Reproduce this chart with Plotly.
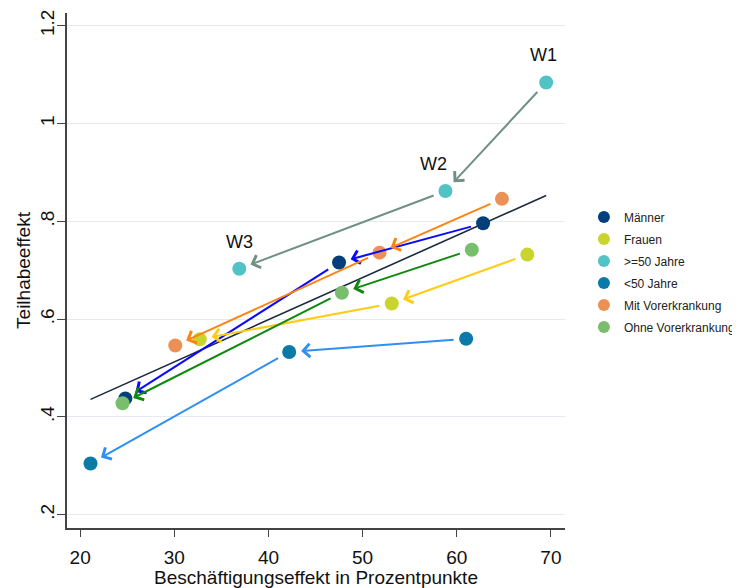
import plotly.graph_objects as go

# ---- data ----
groups = ["Männer", "Frauen", ">=50 Jahre", "<50 Jahre", "Mit Vorerkrankung", "Ohne Vorerkrankung"]
# three waves W1, W2, W3 per group
x_maenner = [62.8, 47.5, 24.8]
y_maenner = [0.796, 0.716, 0.438]
x_frauen = [67.5, 53.1, 32.7]
y_frauen = [0.732, 0.632, 0.559]
x_ue50 = [69.5, 58.8, 36.9]
y_ue50 = [1.084, 0.862, 0.703]
x_u50 = [61.0, 42.2, 21.1]
y_u50 = [0.560, 0.533, 0.305]
x_mit = [64.8, 51.8, 30.1]
y_mit = [0.846, 0.736, 0.546]
x_ohne = [61.6, 47.8, 24.5]
y_ohne = [0.742, 0.654, 0.428]
wave_labels = ["W1", "W2", "W3"]

# fitted line
fit_x = [21.1, 69.5]
fit_y = [0.436, 0.853]

xs = [x_maenner, x_frauen, x_ue50, x_u50, x_mit, x_ohne]
ys = [y_maenner, y_frauen, y_ue50, y_u50, y_mit, y_ohne]

marker_colors = ["#043f7c", "#c9d42c", "#52c3c5", "#0b7aa6", "#ec9156", "#79be6c"]
arrow_colors = ["#0a0aff", "#ffcc14", "#6f9083", "#2f8ff2", "#ff8312", "#0d8a0d"]

x_ticks = [20, 30, 40, 50, 60, 70]
y_ticks = [0.2, 0.4, 0.6, 0.8, 1.0, 1.2]
y_ticktext = [".2", ".4", ".6", ".8", "1", "1.2"]

FONT = "Liberation Sans, Arial, sans-serif"

fig = go.Figure()

fig.add_trace(go.Scatter(x=fit_x, y=fit_y, mode="lines",
                         line=dict(color="#1b2a3f", width=1.6),
                         showlegend=False, hoverinfo="skip"))

for g, gx, gy, mc in zip(groups, xs, ys, marker_colors):
    fig.add_trace(go.Scatter(x=gx, y=gy, mode="markers", name=g, legendgroup=g,
                             marker=dict(color=mc, size=14, line=dict(width=0))))

annotations = []
for gx, gy, ac in zip(xs, ys, arrow_colors):
    for i in range(2):
        annotations.append(dict(
            x=gx[i + 1], y=gy[i + 1], ax=gx[i], ay=gy[i],
            xref="x", yref="y", axref="x", ayref="y",
            text="", showarrow=True, arrowhead=4, arrowsize=1.3,
            arrowwidth=2, arrowcolor=ac, standoff=12, startstandoff=11))

for lab, px, py, xsft in zip(wave_labels, x_ue50, y_ue50, [-3, -12, 0]):
    annotations.append(dict(x=px, y=py, xref="x", yref="y", text=lab,
                            showarrow=False, yshift=27, xshift=xsft,
                            font=dict(size=18, color="#111111", family=FONT)))

fig.update_layout(
    width=760, height=580,
    margin=dict(l=59, r=203, t=5, b=60),
    paper_bgcolor="white", plot_bgcolor="white",
    font=dict(family=FONT, color="#111111"),
    annotations=annotations,
    legend=dict(x=1.038, y=0.632, xanchor="left", yanchor="top",
                font=dict(size=12, color="#222222", family=FONT),
                tracegroupgap=3,
                bgcolor="rgba(0,0,0,0)", itemsizing="constant"),
    xaxis=dict(range=[18.6, 71.5], tickvals=x_ticks, showgrid=False,
               showline=True, linecolor="#444444", linewidth=1.5,
               ticks="outside", ticklen=7, tickcolor="#444444",
               tickfont=dict(size=19), zeroline=False, ticklabelstandoff=4,
               automargin=False,
               title=dict(text="Beschäftigungseffekt in Prozentpunkte",
                          font=dict(size=19), standoff=4)),
    yaxis=dict(range=[0.173, 1.226], tickvals=y_ticks, ticktext=y_ticktext,
               tickangle=-90, showgrid=True, gridcolor="#e6eaf3", gridwidth=1,
               showline=True, linecolor="#444444", linewidth=1.5,
               ticks="outside", ticklen=8, tickcolor="#444444",
               tickfont=dict(size=19), zeroline=False, ticklabelstandoff=-4,
               automargin=False,
               title=dict(text="Teilhabeeffekt", font=dict(size=19), standoff=1)),
)

fig.write_html("out.html")
